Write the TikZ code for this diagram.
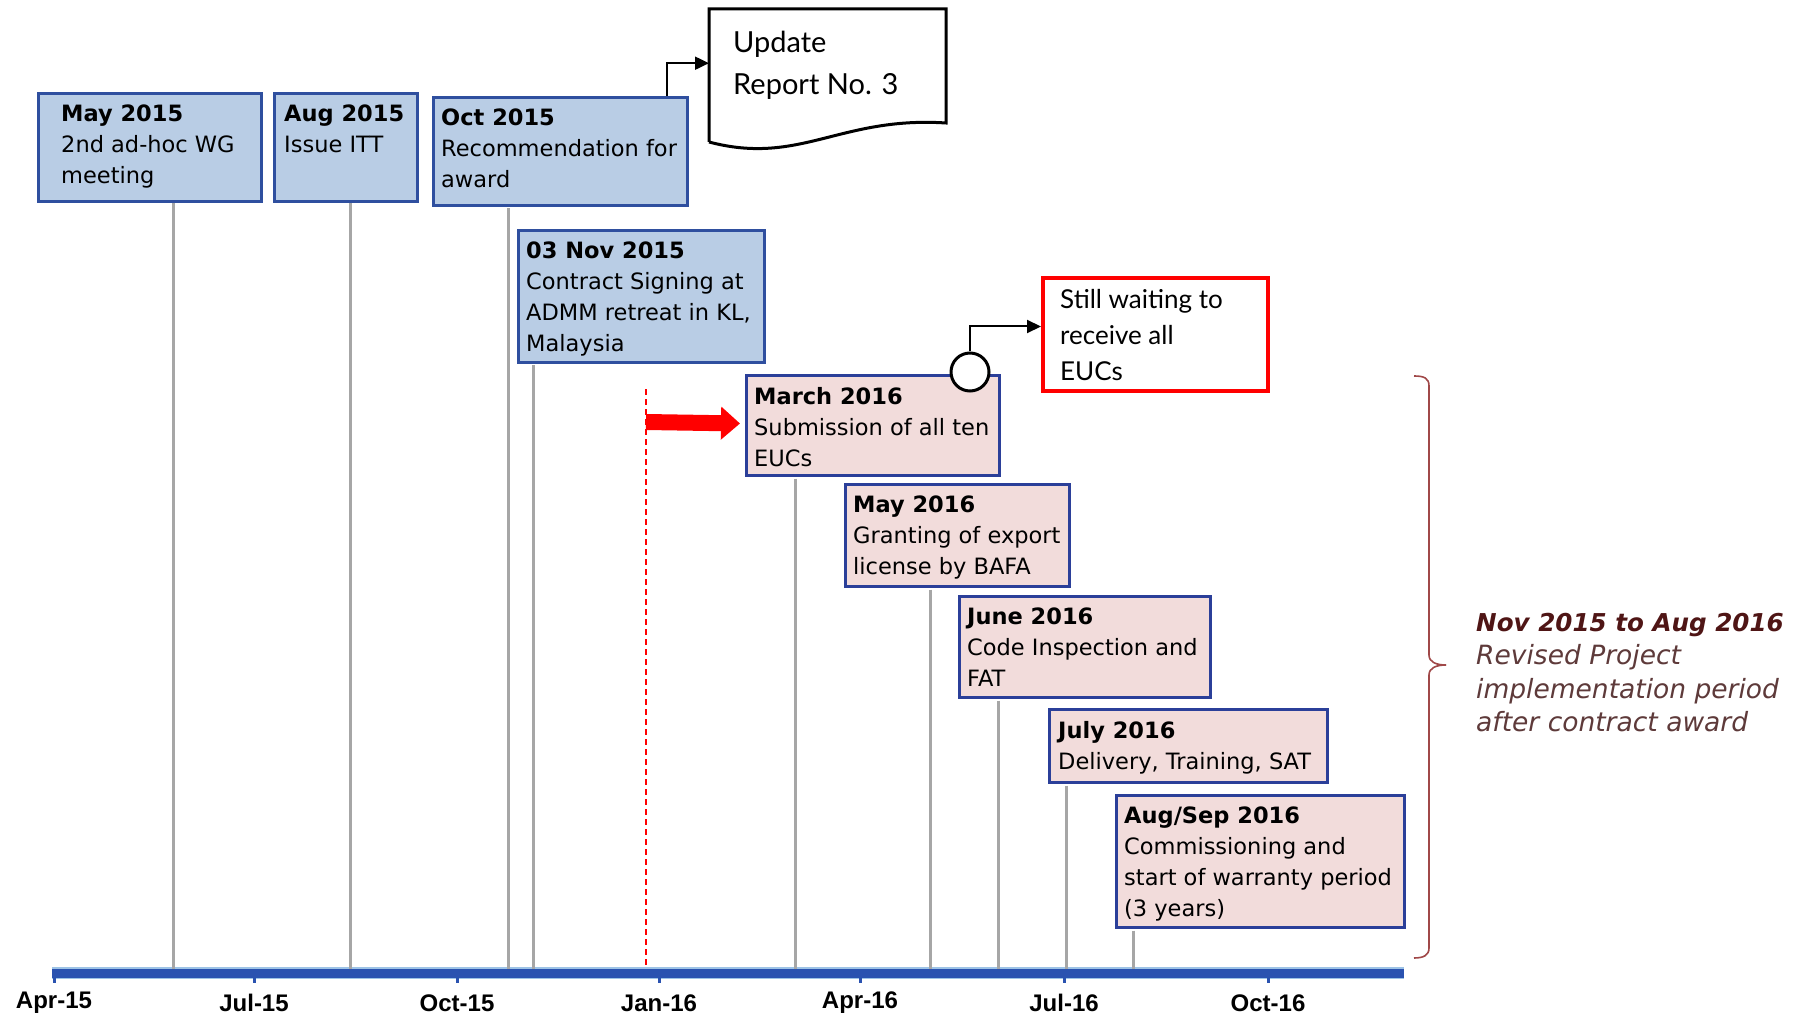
\documentclass[tikz,border=0pt]{standalone}
\usepackage{fontspec}
\setmainfont{DejaVu Sans}
\newfontfamily\latofont{Lato}
\newfontfamily\tickfont{Liberation Sans}
\usetikzlibrary{arrows.meta,calc}
\definecolor{bfill}{HTML}{B9CDE5}
\definecolor{bline}{HTML}{2F4F9F}
\definecolor{pfill}{HTML}{F2DCDB}
\definecolor{pline}{HTML}{2B3F99}
\definecolor{gline}{HTML}{A6A6A6}
\definecolor{axisblue}{HTML}{2A52B0}
\definecolor{axislight}{HTML}{9DC3E6}
\definecolor{maroonA}{HTML}{4F1515}
\definecolor{maroonB}{HTML}{5E3A3A}
\definecolor{bracecol}{HTML}{A04848}
\newcommand\evbox[8]{%
  \node[#2, minimum width=#5pt, minimum height=#6pt] (#1) at (#3,#4) {};
  \node[evtext] (#1t) at ([xshift=#7pt,yshift=-13pt]#1.north west) {#8};
}
\begin{document}
\begin{tikzpicture}[x=1pt,y=-1pt,
  evbase/.style={draw, line width=3pt, inner sep=0pt, anchor=north west},
  bluebox/.style={evbase, fill=bfill, draw=bline},
  pinkbox/.style={evbase, fill=pfill, draw=pline},
  evtext/.style={anchor=north west, inner sep=0pt, align=left, font=\fontsize{22.5}{31}\selectfont},
  stem/.style={draw=gline, line width=3pt},
  conn/.style={draw=black, line width=2pt, -{Triangle[length=14pt,width=13pt]}},
  ticklab/.style={font=\tickfont\bfseries\fontsize{24}{24}\selectfont, inner sep=0pt}
]
\useasboundingbox (0,0) rectangle (1805,1016);
\fill[white] (0,0) rectangle (1805,1016);

% axis
\coordinate (ax0) at (52,973);
\coordinate (ax1) at (1404,973);
\draw[axislight, line width=12pt] (ax0) -- (ax1);
\draw[axisblue, line width=9pt] (ax0) -- (ax1);
\foreach \x/\lab [count=\i] in {54/Apr-15,254/Jul-15,457/Oct-15,659/Jan-16,860/Apr-16,1064/Jul-16,1268/Oct-16}{
  \coordinate (t\i) at (\x,973);
  \draw[axisblue, line width=3pt] (t\i) -- ++(0,10);
  \node[ticklab] (tl\i) at ([yshift=-30pt]t\i) {\lab};
}

% stems anchors on axis
\foreach \x [count=\i] in {173,350,508,533,795,930,998,1066,1133}{
  \coordinate (s\i) at (\x,969);
}

% boxes
\evbox{may15}{bluebox}{37}{92}{223}{108}{24}{\textbf{May 2015}\\2nd ad-hoc WG\\meeting}
\evbox{aug15}{bluebox}{273}{92}{143}{108}{11}{\textbf{Aug 2015}\\Issue ITT}
\evbox{oct15}{bluebox}{432}{96}{254}{108}{9}{\textbf{Oct 2015}\\Recommendation for\\award}
\evbox{nov15}{bluebox}{517}{229}{246}{132}{9}{\textbf{03 Nov 2015}\\Contract Signing at\\ADMM retreat in KL,\\Malaysia}
\evbox{mar16}{pinkbox}{745}{374}{253}{100}{9}{\textbf{March 2016}\\Submission of all ten\\EUCs}
\evbox{may16}{pinkbox}{844}{483}{224}{102}{9}{\textbf{May 2016}\\Granting of export\\license by BAFA}
\evbox{jun16}{pinkbox}{958}{595}{251}{101}{9}{\textbf{June 2016}\\Code Inspection and\\FAT}
\evbox{jul16}{pinkbox}{1048}{708}{278}{73}{10}{\textbf{July 2016}\\Delivery, Training, SAT}
\evbox{aug16}{pinkbox}{1115}{794}{288}{132}{9}{\textbf{Aug/Sep 2016}\\Commissioning and\\start of warranty period\\(3 years)}

% stems
\draw[stem] (may15.south -| s1) -- (s1);
\draw[stem] (aug15.south -| s2) -- (s2);
\draw[stem] ([yshift=-1.5pt]oct15.south -| s3) -- (s3);
\draw[stem] ([yshift=-1.5pt]nov15.south -| s4) -- (s4);
\draw[stem] ([yshift=-1.5pt]mar16.south -| s5) -- (s5);
\draw[stem] ([yshift=-1.5pt]may16.south -| s6) -- (s6);
\draw[stem] ([yshift=-1.5pt]jun16.south -| s7) -- (s7);
\draw[stem] ([yshift=-1.5pt]jul16.south -| s8) -- (s8);
\draw[stem] ([yshift=-1.5pt]aug16.south -| s9) -- (s9);

% red dashed marker and arrow
\coordinate (rd0) at (646,389);
\coordinate (rd1) at (646,967);
\draw[red, line width=1.6pt, dash pattern=on 6pt off 4pt] (rd0) -- (rd1);
\coordinate (rarr) at (646,422);
\draw[red, line width=16pt, -{Triangle[length=19pt,width=32pt]}] (rarr) -- ([xshift=-5pt,yshift=2pt]mar16.west);

% update report document
\node[minimum width=237pt, minimum height=134pt, anchor=north west, inner sep=0pt] (upd) at (709,9) {};
\draw[line width=3pt, fill=white, line join=miter] (709,142) -- (709,9) -- (946,9) -- (946,123)
  .. controls (840,116) and (800,166) .. (709,142);
\node[anchor=north west, inner sep=0pt, align=left, font=\latofont\fontsize{29}{42}\selectfont] (updt)
  at ([xshift=24pt,yshift=-22pt]upd.north west) {Update\\Report No. 3};
\draw[conn] ([xshift=-22pt]oct15.north east) |- ([yshift=13pt]upd.west);

% still waiting box
\node[draw=red, line width=4pt, minimum width=225pt, minimum height=113pt, anchor=north west, inner sep=0pt, fill=white] (wait) at (1041,276) {};
\node[anchor=north west, inner sep=0pt, align=left, font=\latofont\fontsize{26}{36}\selectfont] (waitt)
  at ([xshift=19pt,yshift=-13pt]wait.north west) {Still waiting to\\receive all\\EUCs};
\node[circle, draw=black, line width=3pt, fill=white, minimum size=38pt, inner sep=0pt] (circ) at (970,372) {};
\draw[conn] (circ.north) |- ([yshift=8pt]wait.west);

% brace
\coordinate (btip) at (1446,665);
\draw[bracecol, line width=1.6pt] (1414,376) .. controls (1424,376) and (1429,378) .. (1429,386)
  -- (1429,655) .. controls (1429,662) and (1436,665) .. (btip);
\draw[bracecol, line width=1.6pt] (btip) .. controls (1436,665) and (1429,668) .. (1429,675)
  -- (1429,948) .. controls (1429,955) and (1424,958) .. (1414,958);

\node[anchor=north west, inner sep=0pt, align=left, font=\itshape\fontsize{26.5}{33.5}\selectfont, text=maroonB] (period)
  at (1476,613) {\textcolor{maroonA}{\bfseries\fontsize{24.6}{33.5}\selectfont Nov 2015 to Aug 2016}\\Revised Project\\implementation period\\after contract award};
\end{tikzpicture}
\end{document}
